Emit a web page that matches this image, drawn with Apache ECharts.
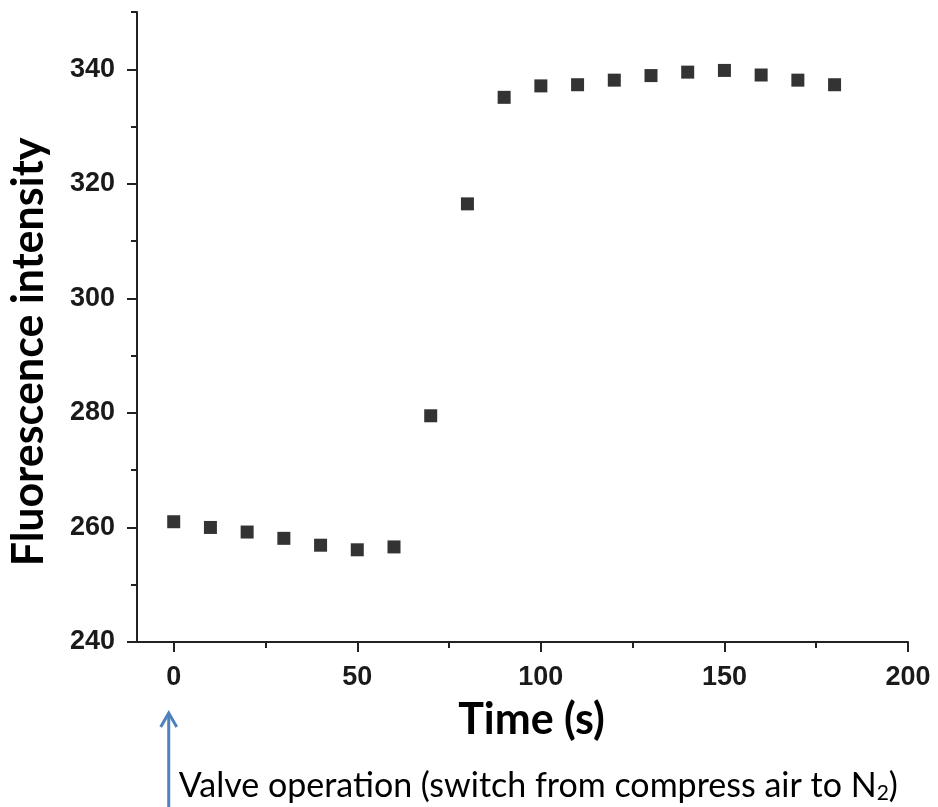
<!DOCTYPE html>
<html><head><meta charset="utf-8">
<script src="https://cdn.jsdelivr.net/npm/echarts@6/dist/echarts.min.js"></script>
<style>html,body{margin:0;padding:0;background:#fff}#c{width:938px;height:807px}</style>
</head><body><div id="c"></div>
<script>
var timeS = [0,10,20,30,40,50,60,70,80,90,100,110,120,130,140,150,160,170,180];
var intensity = [261.0,260.0,259.2,258.1,256.9,256.1,256.6,279.5,316.5,335.1,337.1,337.3,338.1,338.9,339.5,339.8,339.0,338.1,337.3];
var xTicks = [0,50,100,150,200];
var xMinor = [25,75,125,175];
var yTicks = [240,260,280,300,320,340];
var yMinor = [250,270,290,310,330,350];
var xName = 'Time (s)';
var yName = 'Fluorescence intensity';
var annotationText = 'Valve operation (switch from compress air to N';

var chart = echarts.init(document.getElementById('c'));
var axisFont = {fontFamily:'Liberation Sans, Arial', fontWeight:'bold', fontSize:27, color:'#1a1a1a'};
var lineCol = '#222';
chart.setOption({
  animation:false,
  backgroundColor:'#fff',
  grid:{left:137, right:30, top:12, bottom:165},
  xAxis:[{type:'value', min:-10, max:200,
    name:xName, nameLocation:'middle', nameGap:57,
    nameTextStyle:{fontFamily:'Lato', fontWeight:'bold', fontSize:43, color:'#000', padding:[0,0,0,18]},
    axisLine:{show:true, onZero:false, lineStyle:{color:lineCol, width:2}},
    axisTick:{show:true, inside:false, length:10, customValues:xTicks, lineStyle:{color:lineCol, width:2}},
    splitLine:{show:false},
    axisLabel:Object.assign({margin:22, customValues:xTicks}, axisFont)
  },{type:'value', min:-10, max:200, position:'bottom',
    axisLine:{show:false, onZero:false},
    axisTick:{show:true, inside:false, length:6, customValues:xMinor, lineStyle:{color:lineCol, width:2}},
    splitLine:{show:false},
    axisLabel:{show:false}
  }],
  yAxis:[{type:'value', min:240, max:350,
    name:yName, nameLocation:'middle', nameGap:86,
    nameTextStyle:{fontFamily:'Lato', fontWeight:'bold', fontSize:43, color:'#000', padding:[0,50,0,0]},
    axisLine:{show:true, onZero:false, lineStyle:{color:lineCol, width:2}},
    axisTick:{show:true, inside:false, length:10, customValues:yTicks, lineStyle:{color:lineCol, width:2}},
    splitLine:{show:false},
    axisLabel:Object.assign({margin:22, customValues:yTicks}, axisFont)
  },{type:'value', min:240, max:350, position:'left',
    axisLine:{show:false, onZero:false},
    axisTick:{show:true, inside:false, length:6, customValues:yMinor, lineStyle:{color:lineCol, width:2}},
    splitLine:{show:false},
    axisLabel:{show:false}
  }],
  series:[{type:'scatter', symbol:'rect', symbolSize:13,
    itemStyle:{color:'#000'},
    data:timeS.map(function(t,i){return [t,intensity[i]];})}]
});
var p0 = chart.convertToPixel({gridIndex:0},[0,240]);
var ax = p0[0] - 5;
chart.setOption({graphic:[
  {type:'line', shape:{x1:ax, y1:807, x2:ax, y2:714}, style:{stroke:'#4f81bd', lineWidth:3}},
  {type:'polyline', shape:{points:[[ax-8,727],[ax,713],[ax+8,727]]}, style:{stroke:'#4f81bd', lineWidth:3, fill:null}},
  {type:'text', x:ax+10, y:786, style:{text:annotationText+'{sub|2}{p|)}', rich:{sub:{fontSize:21, verticalAlign:'bottom', padding:[15,0,0,0], fontFamily:'Lato'}, p:{fontSize:34, fontFamily:'Lato'}}, fontFamily:'Lato', fontSize:34, fill:'#000', verticalAlign:'middle'}}
]});
</script></body></html>
